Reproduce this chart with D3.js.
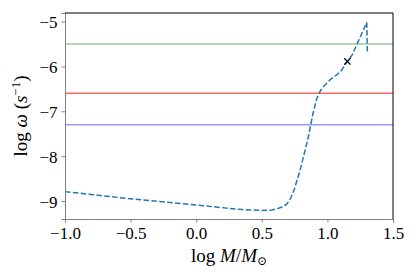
<!DOCTYPE html>
<meta charset="utf-8">
<style>
  body { margin: 0; background: #fff; }
</style>
<body>
<svg width="415" height="277"></svg>
<script src="https://d3js.org/d3.v7.min.js"></script>
<script>

// track of log omega against log mass
var logM = [-1.0, -0.5, 0.0, 0.35, 0.5, 0.58, 0.65, 0.69, 0.72, 0.75, 0.79, 0.83, 0.855,
            0.873, 0.89, 0.906, 0.918, 0.94, 0.96, 1.02, 1.10, 1.15, 1.19, 1.24, 1.30, 1.305];
var logW = [-8.79, -8.95, -9.09, -9.19, -9.21, -9.20, -9.14, -9.07, -8.94, -8.72, -8.33, -7.87, -7.57,
            -7.30, -7.05, -6.86, -6.73, -6.58, -6.48, -6.30, -6.12, -5.90, -5.74, -5.41, -5.02, -5.71];

// horizontal reference levels
var levels = [-5.5, -6.6, -7.3];
var levelColors = ["#99cc99", "#ff6666", "#9999ff"];

// marked point
var markX = [1.152];
var markY = [-5.89];

var xTicks = [-1.0, -0.5, 0.0, 0.5, 1.0, 1.5];
var yTicks = [-5, -6, -7, -8, -9];

const FONT = "'Liberation Serif', 'DejaVu Serif', serif";

const svg = d3.select("svg"),
      width = +svg.attr("width"),
      height = +svg.attr("height");
const margin = {top: 13, right: 22, bottom: 58, left: 65};

const x = d3.scaleLinear().domain([-1.0, 1.5]).range([margin.left, width - margin.right]);
const y = d3.scaleLinear().domain([-9.4, -4.81]).range([height - margin.bottom, margin.top]);

const minus = s => s.replace("-", "\u2212");

// reference lines
svg.append("g").selectAll("line")
  .data(levels)
  .enter().append("line")
  .attr("x1", x(-1.0)).attr("x2", x(1.5))
  .attr("y1", d => y(d)).attr("y2", d => y(d))
  .attr("stroke", (d, i) => levelColors[i])
  .attr("stroke-width", 1.5);

// curve
const pts = logM.map((m, i) => [m, logW[i]]);
svg.append("path")
  .datum(pts)
  .attr("fill", "none")
  .attr("stroke", "#1f77b4")
  .attr("stroke-width", 1.5)
  .attr("stroke-dasharray", "5.5,2.4")
  .attr("d", d3.line().x(d => x(d[0])).y(d => y(d[1])));

// marker x
svg.append("g").selectAll("path")
  .data(markX.map((m, i) => [m, markY[i]]))
  .enter().append("path")
  .attr("transform", d => `translate(${x(d[0])},${y(d[1])})`)
  .attr("d", d3.symbol().type(d3.symbolX).size(28))
  .attr("fill", "none")
  .attr("stroke", "#000")
  .attr("stroke-width", 1.2);

// axes
const xAxis = svg.append("g")
  .attr("transform", `translate(0,${height - margin.bottom})`)
  .call(d3.axisBottom(x).tickValues(xTicks).tickSizeOuter(0).tickSize(3.5).tickPadding(4)
    .tickFormat(d => minus(d3.format(".1f")(d))));
const yAxis = svg.append("g")
  .attr("transform", `translate(${margin.left},0)`)
  .call(d3.axisLeft(y).tickValues(yTicks).tickSizeOuter(0).tickSize(3.5).tickPadding(4)
    .tickFormat(d => minus(String(d))));

[xAxis, yAxis].forEach(a => {
  a.attr("font-family", FONT).attr("font-size", 17);
  a.select(".domain").attr("stroke", "#808080").attr("stroke-width", 1);
  a.selectAll(".tick line").attr("stroke", "#808080");
  a.selectAll(".tick text").attr("fill", "#000").style("font-family", FONT).style("font-size", "17px");
});
yAxis.selectAll(".tick text").attr("dy", "0.35em");

// top and right spines
svg.append("line")
  .attr("x1", x(-1.0)).attr("x2", x(1.5))
  .attr("y1", margin.top).attr("y2", margin.top)
  .attr("stroke", "#000").attr("stroke-width", 1);
svg.append("line")
  .attr("x1", width - margin.right).attr("x2", width - margin.right)
  .attr("y1", margin.top).attr("y2", height - margin.bottom)
  .attr("stroke", "#000").attr("stroke-width", 1);

// axis labels
const xl = svg.append("text")
  .attr("x", (margin.left + width - margin.right) / 2)
  .attr("y", 262)
  .attr("text-anchor", "middle")
  .style("font-family", FONT)
  .style("font-size", "19px");
xl.append("tspan").text("log ");
xl.append("tspan").attr("font-style", "italic").text("M");
xl.append("tspan").text("/");
xl.append("tspan").attr("font-style", "italic").text("M");
xl.append("tspan").style("font-size", "12px").attr("dy", 3).text("\u2299");

const yl = svg.append("text")
  .attr("transform", `translate(27,${(margin.top + height - margin.bottom) / 2}) rotate(-90)`)
  .attr("text-anchor", "middle")
  .style("font-family", FONT)
  .style("font-size", "19px");
yl.append("tspan").text("log ");
yl.append("tspan").attr("font-style", "italic").text("\u03C9");
yl.append("tspan").text(" (");
yl.append("tspan").attr("font-style", "italic").text("s");
yl.append("tspan").style("font-size", "13px").attr("dy", -7).text("\u22121");
yl.append("tspan").attr("dy", 7).text(")");

</script>
</body>
